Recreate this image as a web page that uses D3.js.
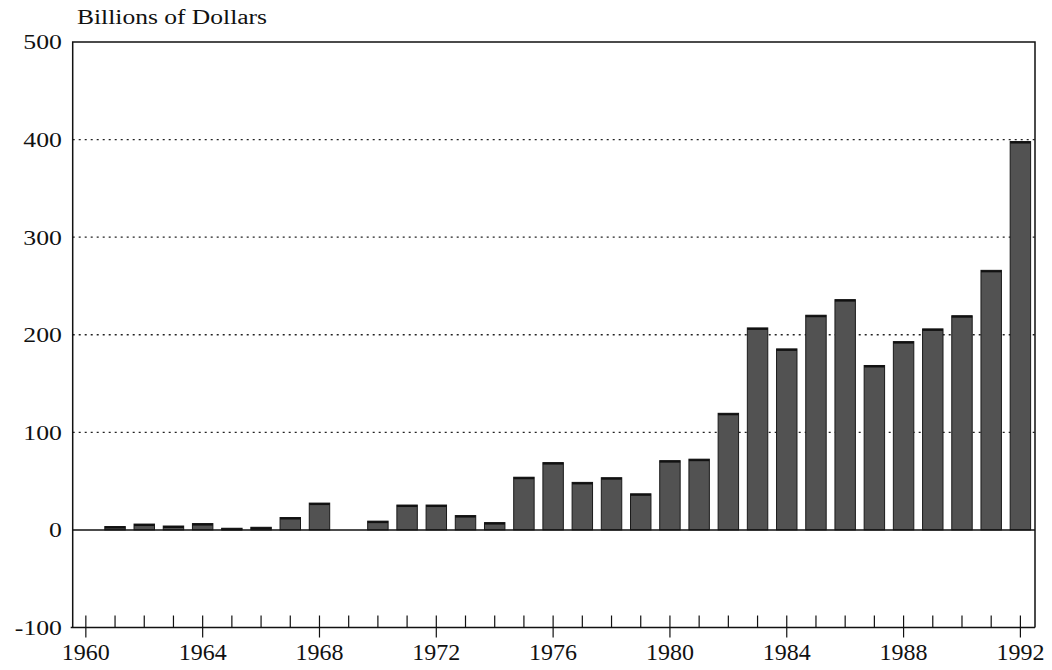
<!DOCTYPE html>
<html>
<head>
<meta charset="utf-8">
<script src="https://cdn.jsdelivr.net/npm/d3@7"></script>
<style>
  html, body { margin: 0; padding: 0; background: #fff; }
  svg { display: block; }
  text { font-family: "Liberation Serif", "Times New Roman", "DejaVu Serif", serif; fill: #111; }
</style>
</head>
<body>
<svg id="chart" width="1052" height="670"></svg>
<script>
const years = [1961,1962,1963,1964,1965,1966,1967,1968,1969,1970,1971,1972,1973,1974,1975,1976,1977,1978,1979,1980,1981,1982,1983,1984,1985,1986,1987,1988,1989,1990,1991,1992];
const values = [3.5,6,4,6.5,1.7,2.7,12.7,27.5,0,9,25.5,25.5,14.7,7.5,54,69,48.7,53.5,37,71,72.5,119.5,207,185.5,220,236,168.5,193,206,219.5,266,398];
const yTicks = [-100,0,100,200,300,400,500];
const gridTicks = [100,200,300,400];
const xMajor = [1960,1964,1968,1972,1976,1980,1984,1988,1992];
const xAll = d3.range(1960, 1993);
const yTitle = "Billions of Dollars";

(function () {
const svg = d3.select("#chart");
const pL = 72.7, pR = 1035, pT = 42, pB = 627.5;
const x = d3.scaleLinear().domain([1959.55, 1992.5]).range([pL, pR]);
const y = d3.scaleLinear().domain([-100, 500]).range([pB, pT]);

// gridlines
svg.append("g").selectAll("line").data(gridTicks).join("line")
  .attr("x1", pL).attr("x2", pR)
  .attr("y1", d => y(d)).attr("y2", d => y(d))
  .attr("stroke", "#222").attr("stroke-width", 1.3)
  .attr("stroke-dasharray", "2,4");

// bars
const data = years.map((yr, i) => ({yr, v: values[i]})).filter(d => d.v > 0);
const bw = (x(1961) - x(1960)) * 0.7;
const bars = svg.append("g");
bars.selectAll("rect").data(data).join("rect")
  .attr("x", d => x(d.yr) - bw / 2)
  .attr("width", bw)
  .attr("y", d => y(d.v))
  .attr("height", d => y(0) - y(d.v))
  .attr("fill", "#525252")
  .attr("stroke", "#1a1a1a").attr("stroke-width", 1);
bars.selectAll("line.top").data(data).join("line")
  .attr("class", "top")
  .attr("x1", d => x(d.yr) - bw / 2).attr("x2", d => x(d.yr) + bw / 2)
  .attr("y1", d => y(d.v) + 1).attr("y2", d => y(d.v) + 1)
  .attr("stroke", "#111").attr("stroke-width", 2);

// zero line
svg.append("line").attr("x1", pL).attr("x2", pR)
  .attr("y1", y(0)).attr("y2", y(0)).attr("stroke", "#111").attr("stroke-width", 1.5);

// frame
svg.append("path")
  .attr("d", `M${pL},${pB} L${pL},${pT} L${pR},${pT} L${pR},${pB}`)
  .attr("fill", "none").attr("stroke", "#111").attr("stroke-width", 1.5);
svg.append("line").attr("x1", pL - 2).attr("x2", pR)
  .attr("y1", pB).attr("y2", pB).attr("stroke", "#111").attr("stroke-width", 1.5);

// x ticks
svg.append("g").selectAll("line").data(xAll).join("line")
  .attr("x1", d => x(d)).attr("x2", d => x(d))
  .attr("y1", pB - 12)
  .attr("y2", d => xMajor.includes(d) ? pB + 10 : pB)
  .attr("stroke", "#111").attr("stroke-width", 1.2);

const ff = '"Liberation Serif", "Times New Roman", "DejaVu Serif", serif';

// x labels
svg.append("g").selectAll("text").data(xMajor).join("text")
  .attr("x", d => x(d)).attr("y", 660)
  .attr("text-anchor", "middle")
  .attr("font-family", ff)
  .attr("font-size", 24)
  .text(d => d);

// y labels
svg.append("g").selectAll("text").data(yTicks).join("text")
  .attr("x", 62).attr("y", d => y(d))
  .attr("dy", "0.34em")
  .attr("text-anchor", "end")
  .attr("font-family", ff)
  .attr("font-size", 22)
  .text(d => d)
  .each(function () {
    const w = this.getComputedTextLength();
    d3.select(this).attr("textLength", w * 1.17).attr("lengthAdjust", "spacingAndGlyphs");
  });

// title
svg.append("text").attr("x", 77).attr("y", 24)
  .attr("font-family", ff)
  .attr("font-size", 20.5)
  .attr("textLength", 190).attr("lengthAdjust", "spacingAndGlyphs")
  .text(yTitle);
})();
</script>
</body>
</html>
